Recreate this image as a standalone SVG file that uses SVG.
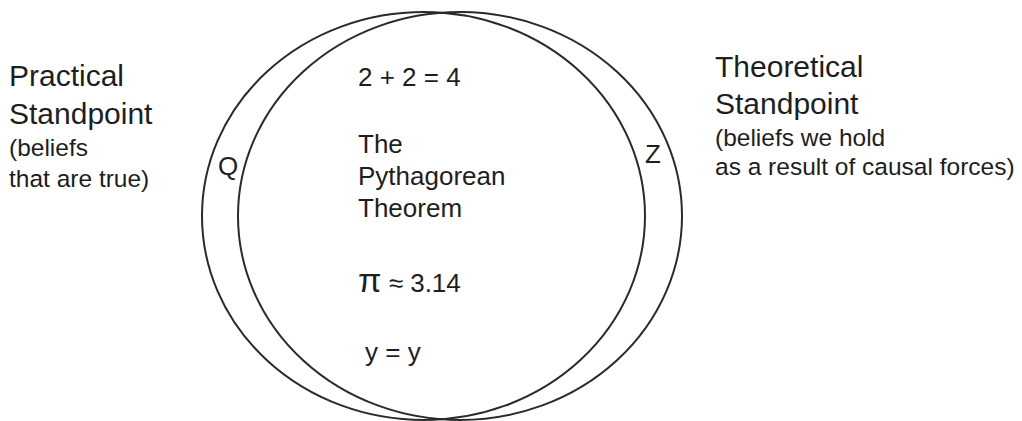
<svg xmlns="http://www.w3.org/2000/svg" width="1022" height="421" viewBox="0 0 1022 421">
<style>
.e{fill:none;stroke:#2a2a2a;stroke-width:2}
text{font-family:"Liberation Sans",Arial,sans-serif;fill:#1e1e1e}
.big{font-size:30px}
.sm{font-size:24.5px}
.mid{font-size:26px}
</style>
<rect width="1022" height="421" fill="#fff"/>
<g id="sets">
<ellipse id="left-set" class="e" cx="423.5" cy="216" rx="221.5" ry="204"/>
<ellipse id="right-set" class="e" cx="460" cy="216" rx="222" ry="204"/>
</g>
<g id="practical">
<text class="big" x="9" y="86">Practical</text>
<text class="big" x="9" y="124">Standpoint</text>
<text class="sm" x="9" y="156">(beliefs</text>
<text class="sm" x="9" y="187">that are true)</text>
</g>
<g id="theoretical">
<text class="big" x="715" y="77">Theoretical</text>
<text class="big" x="715" y="114">Standpoint</text>
<text class="sm" x="715" y="146">(beliefs we hold</text>
<text class="sm" x="715" y="175">as a result of causal forces)</text>
</g>
<g id="labels">
<text class="mid" x="218" y="175">Q</text>
<text class="mid" x="645" y="163">Z</text>
</g>
<g id="content">
<text class="mid" x="358" y="86">2 + 2 = 4</text>
<text class="mid" x="358" y="153">The</text>
<text class="mid" x="358" y="185">Pythagorean</text>
<text class="mid" x="358" y="217">Theorem</text>
<text class="mid" x="358" y="292"><tspan font-size="34px">π</tspan> ≈ 3.14</text>
<text class="mid" x="365" y="361">y = y</text>
</g>
</svg>
